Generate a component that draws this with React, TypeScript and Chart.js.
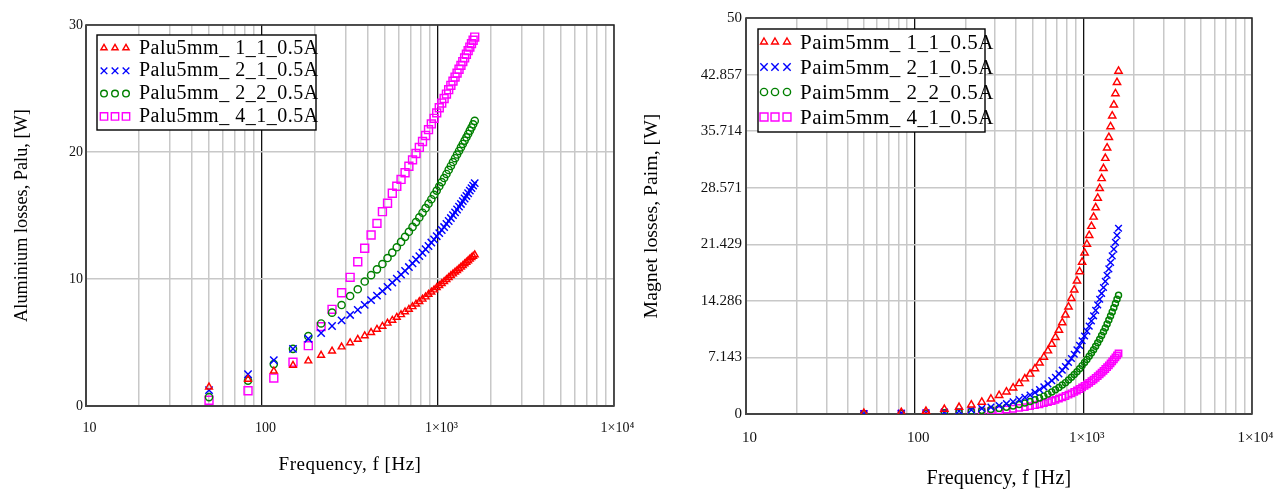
import React, { useEffect, useRef } from 'react';
import { Chart, registerables } from 'chart.js';

Chart.register(...registerables);

// ---------- data ----------
const frequencyHz = [
  50, 83.3, 116.7, 150, 183.3, 216.7, 250, 283.3, 316.7, 350, 383.3, 416.7, 450, 483.3, 516.7, 550,
  583.3, 616.7, 650, 683.3, 716.7, 750, 783.3, 816.7, 850, 883.3, 916.7, 950, 983.3, 1016.7, 1050,
  1083.3, 1116.7, 1150, 1183.3, 1216.7, 1250, 1283.3, 1316.7, 1350, 1383.3, 1416.7, 1450, 1483.3,
  1516.7, 1550, 1583.3, 1616.7,
];

const palu_1_1 = [
  1.5, 2.1, 2.75, 3.2, 3.55, 4.0, 4.33, 4.65, 4.97, 5.25, 5.53, 5.79, 6.04, 6.28, 6.52, 6.75, 6.98,
  7.19, 7.41, 7.61, 7.82, 8.02, 8.22, 8.41, 8.59, 8.79, 8.97, 9.14, 9.32, 9.48, 9.64, 9.8, 9.96,
  10.11, 10.26, 10.4, 10.54, 10.67, 10.8, 10.93, 11.06, 11.19, 11.32, 11.44, 11.56, 11.68, 11.79, 11.9,
];
const palu_2_1 = [
  1.25, 2.5, 3.6, 4.5, 5.3, 5.75, 6.3, 6.74, 7.17, 7.57, 7.96, 8.34, 8.69, 9.05, 9.38, 9.71, 10.03,
  10.34, 10.64, 10.94, 11.23, 11.52, 11.8, 12.07, 12.34, 12.6, 12.87, 13.11, 13.37, 13.61, 13.86,
  14.09, 14.34, 14.57, 14.8, 15.03, 15.25, 15.47, 15.7, 15.91, 16.13, 16.34, 16.54, 16.75, 16.96,
  17.16, 17.35, 17.55,
];
const palu_2_2 = [
  0.7, 2.0, 3.3, 4.5, 5.5, 6.5, 7.35, 7.95, 8.66, 9.19, 9.8, 10.3, 10.76, 11.18, 11.65, 12.08, 12.5,
  12.92, 13.32, 13.72, 14.1, 14.48, 14.85, 15.22, 15.58, 15.93, 16.28, 16.63, 16.96, 17.3, 17.63,
  17.95, 18.27, 18.59, 18.9, 19.21, 19.51, 19.8, 20.08, 20.36, 20.63, 20.9, 21.16, 21.42, 21.68,
  21.93, 22.18, 22.45,
];
const palu_4_1 = [
  0.45, 1.2, 2.2, 3.45, 4.75, 6.25, 7.61, 8.92, 10.13, 11.36, 12.42, 13.46, 14.38, 15.3, 15.96, 16.75,
  17.3, 17.84, 18.37, 18.88, 19.38, 19.88, 20.36, 20.83, 21.3, 21.76, 22.21, 22.65, 23.08, 23.48,
  23.85, 24.21, 24.56, 24.91, 25.25, 25.58, 25.9, 26.21, 26.52, 26.82, 27.12, 27.41, 27.7, 27.98,
  28.26, 28.53, 28.8, 29.05,
];

const paim_1_1 = [
  0.1, 0.2, 0.35, 0.6, 0.85, 1.15, 1.5, 1.9, 2.35, 2.8, 3.3, 3.85, 4.45, 5.05, 5.72, 6.44, 7.19, 7.98,
  8.81, 9.68, 10.59, 11.53, 12.51, 13.53, 14.59, 15.68, 16.81, 17.98, 19.18, 20.34, 21.44, 22.56,
  23.7, 24.87, 26.05, 27.26, 28.48, 29.73, 31.0, 32.29, 33.6, 34.93, 36.28, 37.65, 39.04, 40.45,
  41.88, 43.3,
];
const paim_2_1 = [
  0.05, 0.1, 0.16, 0.26, 0.38, 0.52, 0.69, 0.87, 1.07, 1.3, 1.54, 1.81, 2.1, 2.4, 2.72, 3.07, 3.43,
  3.81, 4.21, 4.63, 5.07, 5.53, 6.0, 6.5, 7.01, 7.54, 8.09, 8.66, 9.25, 9.85, 10.46, 11.09, 11.74,
  12.4, 13.08, 13.78, 14.49, 15.22, 15.97, 16.74, 17.52, 18.32, 19.13, 19.96, 20.81, 21.68, 22.55, 23.45,
];
const paim_2_2 = [
  0.03, 0.07, 0.11, 0.17, 0.25, 0.34, 0.46, 0.57, 0.71, 0.86, 1.02, 1.19, 1.39, 1.58, 1.8, 2.03, 2.26,
  2.51, 2.78, 3.06, 3.35, 3.65, 3.96, 4.29, 4.63, 4.98, 5.34, 5.72, 6.11, 6.49, 6.88, 7.28, 7.7,
  8.12, 8.55, 9.0, 9.45, 9.91, 10.38, 10.87, 11.36, 11.86, 12.37, 12.89, 13.42, 13.96, 14.49, 15.0,
];
const paim_4_1 = [
  0.02, 0.05, 0.09, 0.13, 0.19, 0.25, 0.32, 0.39, 0.48, 0.57, 0.66, 0.77, 0.87, 0.99, 1.11, 1.23, 1.37,
  1.5, 1.64, 1.79, 1.95, 2.1, 2.27, 2.44, 2.61, 2.79, 2.97, 3.16, 3.35, 3.55, 3.74, 3.94, 4.14, 4.35,
  4.56, 4.78, 5.0, 5.22, 5.45, 5.68, 5.91, 6.15, 6.39, 6.64, 6.89, 7.14, 7.4, 7.66,
];

const paluLabels = ['Palu5mm_ 1_1_0.5A', 'Palu5mm_ 2_1_0.5A', 'Palu5mm_ 2_2_0.5A', 'Palu5mm_ 4_1_0.5A'];
const paimLabels = ['Paim5mm_ 1_1_0.5A', 'Paim5mm_ 2_1_0.5A', 'Paim5mm_ 2_2_0.5A', 'Paim5mm_ 4_1_0.5A'];

const xGridTicks = [
  10, 20, 30, 40, 50, 60, 70, 80, 90, 100, 200, 300, 400, 500, 600, 700, 800, 900, 1000, 2000, 3000,
  4000, 5000, 6000, 7000, 8000, 9000, 10000,
];
const xTickLabels: Record<number, string> = { 10: '10', 100: '100', 1000: '1×10³', 10000: '1×10⁴' };
const xBlackLines = [100, 1000];
const paluYTicks = [0, 10, 20, 30];
const paimYTicks = [0, 7.143, 14.286, 21.429, 28.571, 35.714, 42.857, 50];

const seriesColors = ['#ff0000', '#0000ff', '#008000', '#ff00ff'];
const seriesShapes = ['triangle', 'crossRot', 'circle', 'rect'];

const SERIF = '"Liberation Serif", "Times New Roman", serif';

// ---------- helpers ----------
function drawMarker(ctx: CanvasRenderingContext2D, shape: string, x: number, y: number, r: number) {
  ctx.beginPath();
  if (shape === 'triangle') {
    ctx.moveTo(x, y - r);
    ctx.lineTo(x + 0.866 * r, y + 0.5 * r);
    ctx.lineTo(x - 0.866 * r, y + 0.5 * r);
    ctx.closePath();
  } else if (shape === 'crossRot') {
    const d = 0.7071 * r;
    ctx.moveTo(x - d, y - d);
    ctx.lineTo(x + d, y + d);
    ctx.moveTo(x + d, y - d);
    ctx.lineTo(x - d, y + d);
  } else if (shape === 'circle') {
    ctx.arc(x, y, r, 0, Math.PI * 2);
  } else {
    const s = 0.7071 * r;
    ctx.rect(x - s, y - s, 2 * s, 2 * s);
  }
  ctx.stroke();
}

type Spec = {
  width: number;
  series: number[][];
  labels: string[];
  yTicks: number[];
  yMax: number;
  padding: { left: number; top: number; right: number; bottom: number };
  yAxisWidth: number;
  xAxisHeight: number;
  tickFont: number;
  xTickPad: number;
  yTickPad: number;
  pointRadii: number[];
  legendRadii: number[];
  legendBox: { x: number; y: number; w: number; h: number };
  legendMarkerX: number[];
  legendTextX: number;
  legendMarkerY0: number;
  legendBaseY0: number;
  legendStep: number;
  legendFont: number;
  yTitle: string;
  yTitleX: number;
  yTitleFont: number;
  xTitleBase: number;
  xTitleFont: number;
  xTitleSpacing: string;
};

function makeConfig(spec: Spec): any {
  const datasets = spec.series.map((vals, i) => ({
    label: spec.labels[i],
    data: frequencyHz.map((f, j) => ({ x: f, y: vals[j] })),
    showLine: false,
    pointStyle: seriesShapes[i],
    pointRadius: spec.pointRadii[i],
    pointBorderColor: seriesColors[i],
    pointBackgroundColor: 'rgba(0,0,0,0)',
    pointBorderWidth: 1.45,
    borderColor: seriesColors[i],
    backgroundColor: 'rgba(0,0,0,0)',
  }));

  const decor = {
    id: 'decor',
    beforeDatasetsDraw(chart: any) {
      const { ctx, chartArea: a } = chart;
      ctx.save();
      ctx.strokeStyle = '#222';
      ctx.lineWidth = 1.5;
      ctx.strokeRect(a.left, a.top, a.right - a.left, a.bottom - a.top);
      ctx.strokeStyle = '#444';
      ctx.lineWidth = 2;
      ctx.beginPath();
      ctx.moveTo(a.left, a.top);
      ctx.lineTo(a.left, a.bottom);
      ctx.lineTo(a.right, a.bottom);
      ctx.stroke();
      ctx.restore();
    },
    afterDraw(chart: any) {
      const { ctx, chartArea: a } = chart;
      ctx.save();
      // legend
      const b = spec.legendBox;
      ctx.fillStyle = '#ffffff';
      ctx.fillRect(b.x, b.y, b.w, b.h);
      ctx.strokeStyle = '#000';
      ctx.lineWidth = 1.4;
      ctx.strokeRect(b.x, b.y, b.w, b.h);
      spec.labels.forEach((lab, i) => {
        ctx.strokeStyle = seriesColors[i];
        ctx.lineWidth = 1.4;
        const my = spec.legendMarkerY0 + i * spec.legendStep;
        spec.legendMarkerX.forEach((mx) => drawMarker(ctx, seriesShapes[i], mx, my, spec.legendRadii[i]));
        ctx.fillStyle = '#000';
        ctx.font = `${spec.legendFont}px ${SERIF}`;
        (ctx as any).letterSpacing = '0.5px';
        ctx.textAlign = 'left';
        ctx.textBaseline = 'alphabetic';
        ctx.fillText(lab, spec.legendTextX, spec.legendBaseY0 + i * spec.legendStep);
        (ctx as any).letterSpacing = '0px';
      });
      // axis titles
      ctx.fillStyle = '#000';
      ctx.textAlign = 'center';
      ctx.textBaseline = 'alphabetic';
      ctx.font = `${spec.xTitleFont}px ${SERIF}`;
      (ctx as any).letterSpacing = spec.xTitleSpacing;
      ctx.fillText('Frequency, f [Hz]', (a.left + a.right) / 2, spec.xTitleBase);
      (ctx as any).letterSpacing = '0px';
      ctx.font = `${spec.yTitleFont}px ${SERIF}`;
      ctx.translate(spec.yTitleX, (a.top + a.bottom) / 2);
      ctx.rotate(-Math.PI / 2);
      ctx.fillText(spec.yTitle, 0, 0);
      ctx.restore();
    },
  };

  return {
    type: 'scatter',
    data: { datasets },
    options: {
      animation: false,
      responsive: false,
      devicePixelRatio: 1,
      events: [],
      layout: { padding: spec.padding },
      plugins: { legend: { display: false }, tooltip: { enabled: false } },
      scales: {
        x: {
          type: 'logarithmic',
          min: 10,
          max: 10000,
          afterBuildTicks: (s: any) => {
            s.ticks = xGridTicks.map((v) => ({ value: v }));
          },
          afterFit: (s: any) => {
            s.height = spec.xAxisHeight;
            s.paddingLeft = 0;
            s.paddingRight = 0;
          },
          border: { display: false },
          grid: {
            drawTicks: false,
            color: (c: any) => (c.tick && xBlackLines.includes(c.tick.value) ? '#111111' : '#c8c8c8'),
            lineWidth: (c: any) => (c.tick && xBlackLines.includes(c.tick.value) ? 1.3 : 1.5),
          },
          ticks: {
            autoSkip: false,
            maxRotation: 0,
            minRotation: 0,
            padding: spec.xTickPad,
            labelOffset: 3.5,
            color: '#111',
            font: { family: SERIF, size: spec.tickFont },
            callback: (v: any) => xTickLabels[v as number] ?? '',
          },
        },
        y: {
          type: 'linear',
          min: 0,
          max: spec.yMax,
          afterBuildTicks: (s: any) => {
            s.ticks = spec.yTicks.map((v) => ({ value: v }));
          },
          afterFit: (s: any) => {
            s.width = spec.yAxisWidth;
            s.paddingTop = 0;
            s.paddingBottom = 0;
          },
          border: { display: false },
          grid: { drawTicks: false, color: '#c8c8c8', lineWidth: 1.5 },
          ticks: {
            padding: spec.yTickPad,
            color: '#111',
            font: { family: SERIF, size: spec.tickFont },
            callback: (v: any) => String(v),
          },
        },
      },
    },
    plugins: [decor],
  };
}

const leftSpec: Spec = {
  width: 640,
  series: [palu_1_1, palu_2_1, palu_2_2, palu_4_1],
  labels: paluLabels,
  yTicks: paluYTicks,
  yMax: 30,
  padding: { left: 0, top: 25, right: 26, bottom: 0 },
  yAxisWidth: 86,
  xAxisHeight: 83,
  tickFont: 14,
  xTickPad: 13.6,
  yTickPad: 3,
  pointRadii: [3.9, 5.2, 3.6, 5.6],
  legendRadii: [3.6, 4.7, 3.3, 5.2],
  legendBox: { x: 97, y: 35, w: 219, h: 95 },
  legendMarkerX: [104, 115, 126],
  legendTextX: 139,
  legendMarkerY0: 48,
  legendBaseY0: 53.5,
  legendStep: 22.8,
  legendFont: 20,
  yTitle: 'Aluminium losses, Palu, [W]',
  yTitleX: 26.5,
  yTitleFont: 18.3,
  xTitleBase: 470,
  xTitleFont: 19,
  xTitleSpacing: '0.5px',
};

const rightSpec: Spec = {
  width: 635,
  series: [paim_1_1, paim_2_1, paim_2_2, paim_4_1],
  labels: paimLabels,
  yTicks: paimYTicks,
  yMax: 50,
  padding: { left: 0, top: 18, right: 23, bottom: 0 },
  yAxisWidth: 106,
  xAxisHeight: 75,
  tickFont: 15,
  xTickPad: 15,
  yTickPad: 4,
  pointRadii: [4.2, 4.7, 3.0, 4.5],
  legendRadii: [4.0, 5.2, 3.6, 5.6],
  legendBox: { x: 118, y: 29, w: 227, h: 103 },
  legendMarkerX: [124, 135, 147],
  legendTextX: 160,
  legendMarkerY0: 42,
  legendBaseY0: 49,
  legendStep: 25,
  legendFont: 21,
  yTitle: 'Magnet losses, Paim, [W]',
  yTitleX: 17,
  yTitleFont: 19.8,
  xTitleBase: 484,
  xTitleFont: 20,
  xTitleSpacing: '0.2px',
};

function LossChart({ spec, left }: { spec: Spec; left: number }) {
  const ref = useRef<HTMLCanvasElement | null>(null);
  useEffect(() => {
    if (!ref.current) return;
    const chart = new Chart(ref.current, makeConfig(spec));
    return () => chart.destroy();
  }, [spec]);
  return (
    <canvas
      ref={ref}
      width={spec.width}
      height={489}
      style={{ position: 'absolute', left, top: 0, width: spec.width, height: 489 }}
    />
  );
}

export default function App() {
  return (
    <div style={{ position: 'absolute', left: 0, top: 0, width: 1275, height: 489, background: '#fff', overflow: 'hidden' }}>
      <LossChart spec={leftSpec} left={0} />
      <LossChart spec={rightSpec} left={640} />
    </div>
  );
}
